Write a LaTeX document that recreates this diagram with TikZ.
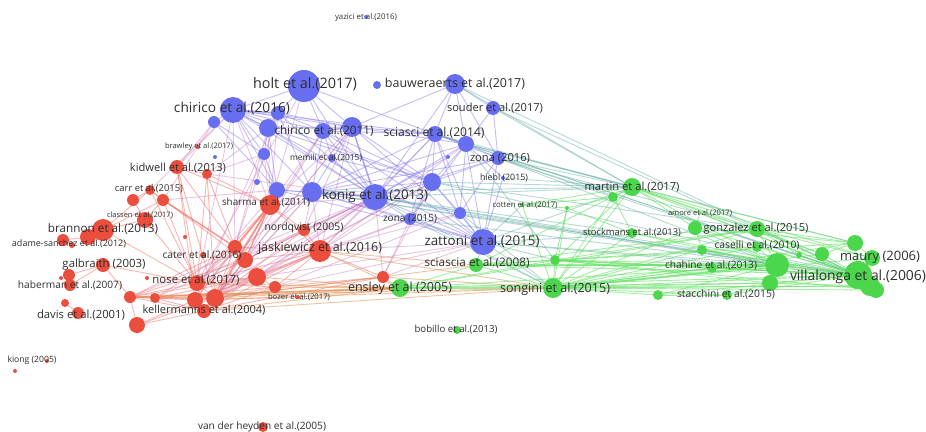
\documentclass[tikz,border=0pt]{standalone}
\usepackage{fontspec}
\usepackage{graphicx}
\setmainfont{Open Sans}
\usetikzlibrary{backgrounds}
\definecolor{cred}{RGB}{236,78,62}
\definecolor{cblue}{RGB}{104,110,240}
\definecolor{cgreen}{RGB}{76,214,76}
\definecolor{labc}{HTML}{2E2E2E}
\definecolor{erd}{RGB}{240,110,100}
\definecolor{ebl}{RGB}{135,125,235}
\definecolor{egr}{RGB}{100,225,100}
\definecolor{erb}{RGB}{205,125,185}
\definecolor{ebg}{RGB}{95,170,160}
\definecolor{erg}{RGB}{225,145,85}
\tikzset{
  dotnode/.style={circle,inner sep=0pt,draw=none,fill=#1},
  lab/.style={inner sep=0pt,text=labc},
  edge/.style={line width=0.9pt,opacity=0.5},
  rr/.style={edge,draw=erd},
  bb/.style={edge,draw=ebl},
  gg/.style={edge,draw=egr,opacity=0.6},
  rb/.style={edge,draw=erb,opacity=0.45},
  bg/.style={edge,draw=ebg,opacity=0.45},
  rg/.style={edge,draw=erg,opacity=0.55}
}
\begin{document}
\begin{tikzpicture}[x=1pt,y=-1pt]
\useasboundingbox (0,0) rectangle (926,431);
% blue
\foreach \n/\x/\y/\d in {holt/304/86/32,bauw/455/84/20,bdot/377/85/8,chir16/233/110/26,souder/493/108/14,chir11/323/131/16,b7/352/127/20,sciasci/435/134/16,b9/466/144/16,zona16/498/158/14,memili/332/158/8,b12/214/122/12,b13/268/128/18,b14/278/113/14,b15/264/154/12,b16/277/190/16,b17/257/182/6,b18/312/192/20,konig/375/197/26,b20/432/182/18,b21/460/213/12,zona15/410/219/12,hiebl/503/178/4,zattoni/483/242/26,b25/448/157/4,yazici/366/17/4,b28/215/157/4}
  \node[dotnode=cblue,minimum size=\d pt] (\n) at (\x,\y) {};
% red
\foreach \n/\x/\y/\d in {brawley/198/147/4,kidwell/177/167/14,r2/207/174/10,carr/150/190/10,r4/133/200/12,r5/163/200/12,classen/145/220/16,brannon/103/230/22,r8/88/237/16,r9/63/240/12,adame/72/245/6,r10/185/237/4,galb/103/265/14,r12/69/275/12,haber/70/285/12,r14/61/278/4,r15/147/278/4,davis/78/313/12,r17/65/303/8,r18/137/325/16,r19/235/247/14,r20/245/260/16,cater/203/255/6,nose/197/283/16,r23/130/297/12,r24/155/298/10,r25/195/300/16,r26/215/298/18,keller/204/311/14,r28/257/277/18,r29/275/287/12,sharma/270/205/20,jask/320/251/22,nord/304/230/12,bozer/298/297/4,r34/383/277/12,kiong/47/361/4,r35/15/371/4,vdh/263/427/10}
  \node[dotnode=cred,minimum size=\d pt] (\n) at (\x,\y) {};
% green
\foreach \n/\x/\y/\d in {ensley/400/288/18,sci08/476/265/14,songini/553/288/20,bobillo/457/330/8,martin/632/187/18,g6/613/197/10,g7/567/208/4,amore/700/213/3,stock/632/233/10,gonz/757/229/16,g11/695/228/14,caselli/757/247/10,g13/702/250/10,g14/777/265/24,chahine/712/268/10,villa/858/275/28,g17/870/286/20,g18/876/290/16,g19/855/243/16,g20/822/254/14,g21/872/258/16,stacch/727/295/10,g23/658/295/10,g24/770/283/16,cotten/522/205/4,g26/555/260/10,g27/799/255/6}
  \node[dotnode=cgreen,minimum size=\d pt] (\n) at (\x,\y) {};
% labels
\foreach \n/\t/\x/\y/\w in {lholt/holt et al.(2017)/305/84/104,lbauw/bauweraerts et al.(2017)/455/84/140,lchir16/chirico et al.(2016)/232/108/116,lsouder/souder et al.(2017)/495/108/96,lchir11/chirico et al.(2011)/324/131/99,lsci14/sciasci et al.(2014)/434/133/101,lzona16/zona (2016)/500/158/60,lmemili/memili et al.(2015)/326/158/72,lkonig/konig et al.(2013)/375/196/106,lzatt/zattoni et al.(2015)/482/241/115,lsci08/sciascia et al.(2008)/477/263/105,lzona15/zona (2015)/410/219/54,ljask/jaskiewicz et al.(2016)/320/248/124,lsharma/sharma et al.(2011)/266/203/88,lnord/nordqvist (2005)/304/228/79,lkid/kidwell et al.(2013)/178/168/96,lcarr/carr et al.(2015)/149/189/68,lbrann/brannon et al.(2013)/103/229/110,ladame/adame-sanchez et al.(2012)/69/244/114,lgalb/galbraith (2003)/104/265/83,lhaber/haberman et al.(2007)/70/285/104,ldavis/davis et al.(2001)/81/315/88,lcater/cater et al.(2016)/202/255/79,lnose/nose et al.(2017)/196/280/87,lkeller/kellermanns et al.(2004)/204/310/123,lensley/ensley et al.(2005)/400/288/104,lsong/songini et al.(2015)/555/289/110,lbob/bobillo et al.(2013)/456/330/83,lmartin/martin et al.(2017)/632/187/95,lstock/stockmans et al.(2013)/632/233/98,lgonz/gonzalez et al.(2015)/756/229/105,lcas/caselli et al.(2010)/757/245/85,lchah/chahine et al.(2013)/711/265/92,lvilla/villalonga et al.(2006)/858/277/136,lmaury/maury (2006)/880/257/80,lstac/stacchini et al.(2015)/726/294/98,lvdh/van der heyden et al.(2005)/262/427/128,lkiong/kiong (2005)/32/360/49,lyaz/yazici et al.(2016)/366/17/62,lbraw/brawley et al.(2017)/199/147/68,lclass/classen et al.(2017)/140/215/66,lbozer/bozer et al.(2017)/299/297/62,lhiebl/hiebl (2015)/504/178/48,lcotten/cotten et al.(2017)/525/205/65,lamore/amore et al.(2017)/700/213/64}
  \node[lab] (\n) at (\x,\y) {\resizebox{\w pt}{!}{\t}};
\begin{pgfonlayer}{background}
\foreach \a/\b in {nose/kidwell,nose/r2,nose/carr,nose/r5,nose/classen,nose/brannon,nose/galb,nose/r19,nose/r20,nose/sharma,nose/jask,nose/r28,nose/r29,nose/r23,nose/keller,nose/r25,nose/r26,r26/kidwell,r26/r2,r26/sharma,r26/r19,r26/r20,r26/jask,r26/nord,r26/r28,r26/r29,r26/r23,r26/r24,r26/r34,r26/r18,r25/r23,r25/r18,r25/sharma,r25/r19,r25/jask,r25/kidwell,r25/r28,r25/bozer,keller/r23,keller/r24,keller/r18,keller/sharma,keller/jask,keller/r34,keller/r20,keller/r29,r23/r24,r23/r18,r23/galb,r23/r28,carr/r4,carr/r5,r4/classen,r5/classen,r5/r19,classen/brannon,brannon/r8,r8/r9,brannon/r5,brannon/carr,kidwell/r2,kidwell/sharma,r2/sharma,r2/r19,kidwell/r20,carr/r20,r19/sharma,r20/sharma,r19/r20,r19/jask,r20/jask,r20/nord,sharma/nord,sharma/jask,jask/nord,jask/r28,jask/r34,jask/r29,r28/r29,galb/r12,haber/r12,davis/r17,galb/haber,r19/r23,r19/r24,r20/r23,r28/r24,r24/r34}
  \draw[rr] (\a) -- (\b);
\foreach \a/\b in {r5/r19,r19/sharma,r20/sharma,r26/sharma}
  \draw[rr,line width=1.6pt] (\a) -- (\b);
\foreach \a/\b in {sharma/b16,sharma/b18,sharma/konig,sharma/b13,sharma/b14,sharma/chir16,sharma/holt,sharma/b7,sharma/chir11,sharma/b15,kidwell/chir16,kidwell/b12,r2/b15,r2/konig,r2/b13,r19/b13,r19/b14,r19/chir16,r20/chir11,r20/b7,r20/konig,nose/b18,nose/konig,nose/chir16,nose/b16,nose/holt,r26/konig,r26/b18,r26/b7,r26/b20,r26/chir11,r25/konig,r25/b14,keller/b18,keller/konig,jask/konig,jask/b20,jask/zattoni,jask/b18,jask/b7,jask/sciasci,jask/b21,jask/zona15,jask/b9,nord/konig,nord/b18,nord/b7,r28/zona15,r28/konig,r28/zattoni,r28/b20,r29/zattoni,r29/b21,r34/zattoni,r34/konig,r34/zona15,r34/b20,carr/chir16,r5/b12,r5/b16,r23/konig,r24/konig}
  \draw[rb] (\a) -- (\b);
\foreach \a/\b in {r23/ensley,r23/songini,r24/ensley,keller/songini,r26/ensley,r25/songini,r28/ensley,jask/ensley,jask/sci08,r29/ensley,r34/ensley,r34/songini,jask/songini,r26/sci08,nose/ensley,keller/ensley,bozer/ensley}
  \draw[rg] (\a) -- (\b);
\draw[rg,line width=1.6pt] (r23) -- (ensley);
\foreach \a/\b in {chir16/holt,chir16/b14,chir16/b12,chir16/b13,chir16/chir11,chir16/b7,chir16/konig,chir16/sciasci,chir16/b18,chir16/b16,chir16/b15,chir16/zattoni,chir16/b20,b12/b15,b12/b16,b13/b15,b15/b16,b14/b7,b14/chir11,b13/b7,b13/konig,b13/b20,b14/konig,b14/b18,chir11/b7,b7/sciasci,b7/konig,b7/b18,b7/b20,b7/zattoni,b7/b9,b7/bauw,chir11/konig,chir11/b18,chir11/b20,chir11/sciasci,chir11/zattoni,holt/b7,holt/chir11,holt/konig,holt/b14,holt/sciasci,sciasci/b9,sciasci/bauw,b9/bauw,bauw/souder,bauw/zona16,bauw/konig,souder/b9,souder/zona16,b9/zona16,b9/konig,b9/b18,b9/zattoni,b9/b20,b9/b21,b9/zona15,sciasci/konig,sciasci/b20,sciasci/zattoni,sciasci/zona15,sciasci/b18,sciasci/b21,sciasci/zona16,zona16/konig,zona16/zattoni,zona16/b20,zona16/b21,zona16/b18,konig/b20,konig/b21,konig/zona15,konig/zattoni,konig/b18,konig/b16,b18/b16,b16/b13,b18/zona15,b18/zattoni,b18/b20,b16/zattoni,b20/zattoni,b21/zattoni,zona15/zattoni,b20/b21,b20/zona15,memili/konig,memili/chir11,memili/b20,hiebl/zattoni,hiebl/b9,b25/konig}
  \draw[bb] (\a) -- (\b);
\foreach \a/\b in {chir16/b14,b7/konig,chir11/b7,sciasci/b9,konig/b18}
  \draw[bb,line width=1.6pt] (\a) -- (\b);
\foreach \a/\b in {bauw/villa,bauw/martin,souder/martin,souder/villa,zona16/martin,zona16/villa,zona16/g14,zona16/gonz,b9/villa,b9/martin,b9/g19,sciasci/villa,sciasci/martin,b20/martin,b20/gonz,b20/villa,konig/martin,konig/villa,konig/songini,konig/stock,konig/g14,zattoni/songini,zattoni/villa,zattoni/g14,zattoni/gonz,zattoni/sci08,zattoni/g26,zattoni/martin,b21/songini,b21/g14,zona15/songini,zona15/villa,b18/martin,b18/g14,b18/villa,hiebl/martin,cotten/zattoni,b9/g26,zona16/g6}
  \draw[bg] (\a) -- (\b);
\foreach \a/\b in {songini/ensley,songini/sci08,songini/martin,songini/g6,songini/stock,songini/gonz,songini/g11,songini/caselli,songini/g13,songini/g14,songini/chahine,songini/villa,songini/g17,songini/g18,songini/g19,songini/g20,songini/g21,songini/stacch,songini/g23,songini/g24,songini/g26,songini/g7,songini/cotten,ensley/sci08,ensley/g26,ensley/villa,ensley/g14,ensley/g17,ensley/gonz,ensley/g24,sci08/g26,sci08/villa,sci08/g14,sci08/g19,sci08/martin,sci08/gonz,g26/villa,g26/g14,g26/gonz,g26/martin,g26/g24,g26/g18,g26/caselli,martin/g6,martin/villa,martin/g19,martin/gonz,martin/g11,martin/g14,martin/g21,martin/g20,g6/g7,g7/stock,g7/g26,g6/stock,cotten/martin,cotten/g7,cotten/g6,stock/villa,stock/g14,gonz/villa,gonz/g19,gonz/g14,gonz/g20,gonz/g21,g11/villa,g11/g13,g11/g14,g11/g19,caselli/villa,caselli/g14,g13/villa,g13/g14,g14/villa,g14/g17,chahine/villa,chahine/g14,stacch/villa,stacch/g24,g23/villa,g23/stacch,g23/g14,g24/villa,g24/g17,g20/villa,g19/villa,g21/villa,g17/villa,g18/villa,g27/villa,g19/g21,g20/g19,g27/gonz,amore/villa,amore/g11}
  \draw[gg] (\a) -- (\b);
\foreach \a/\b in {g26/villa,songini/g14,g14/villa,sci08/g14}
  \draw[gg,line width=1.6pt] (\a) -- (\b);
\end{pgfonlayer}
\end{tikzpicture}
\end{document}
